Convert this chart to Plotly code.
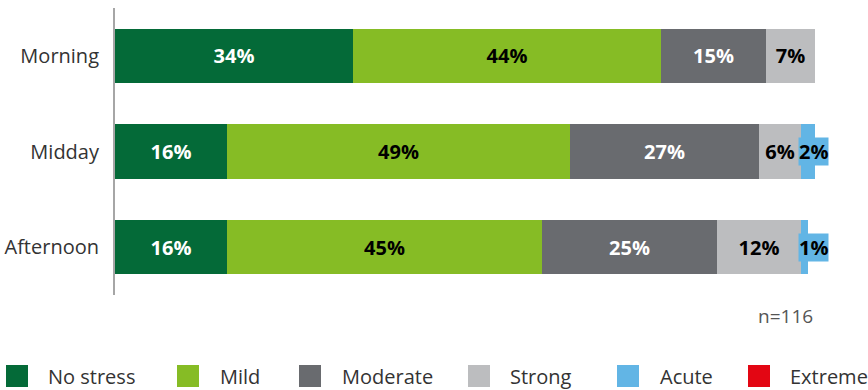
import plotly.graph_objects as go

# Share of respondents by stress level at three points in the working day
periods = ["Morning", "Midday", "Afternoon"]
levels = ["No stress", "Mild", "Moderate", "Strong", "Acute", "Extreme"]
no_stress = [34, 16, 16]
mild = [44, 49, 45]
moderate = [15, 27, 25]
strong = [7, 6, 12]
acute = [0, 2, 1]
extreme = [0, 0, 0]
sample_note = "n=116"

series = [no_stress, mild, moderate, strong, acute, extreme]
colors = ["#046A38", "#86BC25", "#696B6F", "#BCBDBF", "#62B5E5", "#E30613"]
text_colors = ["white", "black", "white", "black", "black", "black"]

FONT = "Open Sans"

fig = go.Figure()
for name, vals, col, tcol in zip(levels, series, colors, text_colors):
    fig.add_trace(go.Bar(
        y=periods, x=vals, name=name, orientation="h",
        marker=dict(color=col, line=dict(width=0)),
        text=[f"{v}%" if v >= 3 else "" for v in vals],
        textposition="inside", insidetextanchor="middle", textangle=0,
        textfont=dict(family=FONT, size=20, color=tcol, weight="bold"),
        constraintext="none",
        showlegend=False, hoverinfo="skip",
    ))

# Small segments get their value in a boxed label at the right end of the bar
for i, p in enumerate(periods):
    v = acute[i]
    if 0 < v < 3:
        fig.add_annotation(
            x=100, y=p, xref="x", yref="y", text=f"<b>{v}%</b>",
            xshift=-2,
            showarrow=False, xanchor="center", yanchor="middle",
            font=dict(family=FONT, size=20, color="black"),
            bgcolor=colors[4], borderpad=0,
        )

# Sample size note
fig.add_annotation(
    x=100, y=-0.02, xref="x", yref="paper", text=sample_note,
    showarrow=False, xanchor="right", yanchor="top",
    font=dict(family=FONT, size=19, color="#555555"),
)

# Custom legend: square swatch plus label for each stress level
W, H = 700, 287
swatch_px = [17, 188, 310, 479, 628, 759]
label_px = [46, 218, 340, 508, 658, 788]
legend_py = 376
for name, col, sx, lx in zip(levels, colors, swatch_px, label_px):
    fig.add_shape(
        type="rect", xref="paper", yref="paper",
        xsizemode="pixel", ysizemode="pixel",
        xanchor=(sx - 115) / W, yanchor=(295 - legend_py) / H,
        x0=-11, x1=11, y0=-11, y1=11,
        fillcolor=col, line=dict(width=0),
    )
    fig.add_annotation(
        x=(lx - 115) / W, y=(295 - legend_py) / H, xref="paper", yref="paper",
        text=name, showarrow=False, xanchor="left", yanchor="middle",
        font=dict(family=FONT, size=20, color="#333333"),
    )

fig.update_layout(
    barmode="stack", bargap=0.435,
    width=868, height=390,
    margin=dict(l=115, r=53, t=8, b=95, autoexpand=False),
    plot_bgcolor="white", paper_bgcolor="white",
    font=dict(family=FONT),
    xaxis=dict(range=[0, 100], visible=False, fixedrange=True, automargin=False),
    yaxis=dict(
        categoryorder="array", categoryarray=periods, autorange="reversed",
        showline=True, linecolor="#A6A6A6", linewidth=2,
        showgrid=False, zeroline=False, ticks="",
        ticklabelstandoff=10, automargin=False,
        tickfont=dict(family=FONT, size=20, color="#333333"),
    ),
)

fig.write_html("out.html")
